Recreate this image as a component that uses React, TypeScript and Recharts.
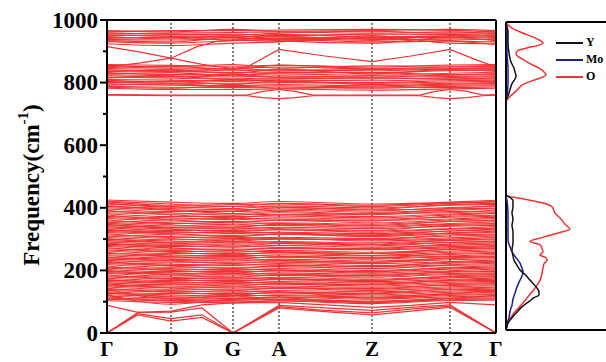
import React from "react";
import { LineChart, Line, XAxis, YAxis, ReferenceLine, Legend } from "recharts";

const FONT = '"Liberation Serif", "Times New Roman", serif';
const RED = "#ee3434";

// high-symmetry path (k distance) and labels
const kPoints = [0, 64, 126, 172, 265, 343, 389];
const kLabels = ["Γ", "D", "G", "A", "Z", "Y2", "Γ"];
const freqTicks = [0, 100, 200, 300, 400, 500, 600, 700, 800, 900, 1000];

// optical bands 100-420 cm-1, values at Γ D G A Z Y2 Γ
const lowBands = [
  [425, 418, 414, 420, 412, 418, 424],
  [419, 408, 410, 412, 404, 414, 419],
  [412, 404, 398, 406, 400, 408, 411],
  [404, 398, 394, 396, 390, 401, 405],
  [396, 388, 388, 392, 386, 392, 397],
  [389, 384, 376, 384, 378, 388, 390],
  [381, 372, 372, 374, 368, 377, 382],
  [372, 368, 362, 368, 364, 370, 373],
  [366, 358, 356, 360, 352, 361, 366],
  [358, 352, 346, 352, 348, 356, 359],
  [351, 342, 342, 344, 338, 347, 350],
  [343, 338, 332, 338, 334, 341, 344],
  [336, 328, 328, 330, 322, 332, 335],
  [328, 324, 318, 322, 318, 326, 329],
  [321, 314, 312, 316, 308, 318, 322],
  [313, 308, 302, 306, 302, 310, 313],
  [305, 298, 298, 302, 294, 300, 305],
  [299, 294, 288, 292, 288, 296, 298],
  [291, 284, 284, 286, 278, 289, 292],
  [283, 280, 274, 280, 274, 280, 284],
  [277, 268, 268, 270, 266, 272, 276],
  [269, 264, 258, 264, 258, 267, 270],
  [262, 254, 254, 256, 248, 258, 262],
  [254, 250, 244, 250, 246, 251, 255],
  [247, 240, 240, 242, 236, 244, 246],
  [240, 236, 230, 236, 230, 238, 241],
  [232, 226, 226, 226, 222, 228, 233],
  [225, 220, 216, 222, 216, 223, 226],
  [219, 210, 210, 212, 206, 216, 218],
  [210, 206, 200, 206, 200, 208, 211],
  [203, 196, 196, 198, 192, 199, 204],
  [196, 192, 186, 192, 188, 194, 197],
  [190, 182, 182, 184, 178, 187, 189],
  [182, 178, 172, 178, 172, 180, 183],
  [175, 168, 168, 170, 164, 171, 176],
  [168, 164, 158, 164, 160, 166, 168],
  [160, 154, 154, 156, 150, 158, 161],
  [153, 150, 144, 150, 146, 152, 154],
  [147, 140, 140, 142, 136, 144, 146],
  [139, 136, 130, 136, 132, 138, 140],
  [132, 126, 126, 128, 122, 130, 133],
  [126, 122, 116, 122, 118, 124, 125],
  [118, 112, 112, 114, 108, 116, 119],
  [111, 108, 104, 108, 102, 110, 112],
  [104, 98, 100, 102, 94, 104, 105],
  [140, 110, 120, 130, 112, 124, 138],
  [122, 92, 108, 112, 98, 110, 120],
];

// second family of optical bands, crossing the first
const lowBands2 = [
  [421, 412, 404, 414, 408, 416, 420],
  [415, 402, 404, 402, 396, 410, 414],
  [407, 394, 390, 400, 394, 398, 408],
  [400, 392, 382, 388, 380, 396, 399],
  [392, 380, 380, 378, 382, 384, 393],
  [384, 378, 368, 378, 372, 380, 385],
  [377, 364, 366, 364, 358, 373, 376],
  [369, 362, 352, 360, 360, 364, 370],
  [362, 350, 352, 350, 344, 356, 361],
  [354, 346, 338, 348, 342, 350, 355],
  [347, 336, 336, 334, 328, 344, 346],
  [339, 332, 324, 330, 326, 334, 340],
  [331, 320, 322, 320, 314, 326, 332],
  [324, 318, 308, 316, 312, 320, 325],
  [317, 306, 306, 302, 298, 314, 316],
  [309, 302, 294, 300, 298, 304, 310],
  [302, 290, 292, 290, 284, 296, 301],
  [295, 288, 278, 286, 282, 290, 294],
  [287, 276, 278, 274, 270, 284, 288],
  [280, 272, 264, 272, 268, 276, 279],
  [273, 260, 262, 260, 254, 268, 272],
  [265, 258, 250, 258, 254, 262, 266],
  [258, 246, 248, 246, 240, 254, 257],
  [250, 244, 236, 244, 240, 246, 251],
  [243, 232, 234, 232, 226, 240, 244],
  [236, 230, 222, 230, 226, 234, 237],
  [229, 216, 218, 218, 212, 226, 228],
  [222, 214, 206, 216, 212, 218, 223],
  [214, 202, 204, 202, 196, 210, 215],
  [207, 200, 192, 200, 196, 204, 208],
  [200, 188, 190, 188, 184, 196, 199],
  [193, 186, 178, 186, 182, 190, 192],
  [186, 174, 176, 174, 168, 182, 187],
  [179, 172, 164, 172, 168, 176, 180],
  [171, 160, 162, 160, 156, 168, 172],
  [164, 158, 150, 158, 154, 162, 165],
  [157, 146, 148, 146, 142, 154, 158],
  [150, 144, 136, 144, 140, 148, 151],
  [143, 132, 134, 132, 128, 140, 144],
  [136, 130, 122, 130, 126, 134, 137],
  [129, 118, 120, 120, 114, 126, 130],
  [122, 116, 110, 116, 112, 120, 123],
  [115, 104, 106, 106, 100, 112, 116],
  [108, 102, 96, 104, 98, 106, 109],
];

// high-frequency bands 760-970 cm-1, values at Γ D G A Z Y2 Γ
const highBands = [
  [962, 966, 966, 968, 970, 967, 962],
  [956, 958, 960, 962, 958, 962, 956],
  [950, 952, 955, 950, 955, 954, 950],
  [944, 944, 948, 946, 940, 948, 944],
  [938, 936, 940, 942, 935, 940, 937],
  [931, 926, 934, 938, 930, 932, 930],
  [924, 918, 926, 930, 950, 926, 924],
  [858, 855, 852, 855, 850, 856, 858],
  [852, 846, 846, 850, 844, 850, 852],
  [845, 842, 838, 842, 838, 844, 846],
  [838, 836, 832, 834, 832, 838, 840],
  [832, 826, 826, 828, 824, 830, 833],
  [825, 822, 818, 822, 818, 824, 826],
  [818, 814, 812, 816, 812, 816, 819],
  [810, 808, 804, 808, 806, 810, 812],
  [803, 798, 798, 800, 798, 802, 804],
  [796, 792, 790, 794, 790, 795, 797],
  [788, 785, 784, 786, 782, 788, 790],
  [782, 778, 778, 780, 776, 780, 782],
];

const highBands2 = [
  [966, 962, 970, 964, 966, 970, 966],
  [959, 954, 952, 958, 964, 958, 959],
  [953, 948, 944, 954, 946, 950, 953],
  [947, 940, 950, 940, 944, 944, 947],
  [941, 946, 936, 948, 938, 936, 941],
  [934, 930, 944, 934, 926, 944, 934],
  [855, 850, 858, 846, 854, 852, 855],
  [848, 852, 842, 856, 846, 846, 848],
  [842, 836, 846, 838, 842, 840, 842],
  [835, 840, 830, 842, 828, 842, 836],
  [828, 832, 822, 832, 832, 826, 829],
  [822, 818, 826, 818, 822, 820, 822],
  [815, 820, 810, 812, 816, 812, 815],
  [807, 802, 808, 804, 800, 806, 808],
  [800, 804, 794, 806, 794, 798, 800],
  [792, 796, 788, 790, 786, 792, 793],
  [785, 782, 790, 782, 786, 784, 786],
];

// dispersive branches, [k, freq]
const acousticBands = [
  [[0, 0], [31, 58], [64, 38], [95, 50], [126, 0], [172, 80], [218, 68], [265, 58], [304, 70], [343, 82], [389, 0]],
  [[0, 0], [31, 62], [64, 46], [95, 58], [126, 0], [172, 84], [218, 72], [265, 64], [304, 76], [343, 86], [389, 0]],
  [[0, 0], [31, 66], [64, 67], [95, 80], [126, 0], [172, 88], [218, 80], [265, 72], [304, 82], [343, 90], [389, 0]],
  [[0, 88], [31, 66], [64, 70], [95, 90], [126, 96], [172, 98], [218, 90], [265, 82], [304, 88], [343, 98], [389, 90]],
  [[0, 915], [32, 898], [64, 878], [90, 915], [110, 932], [126, 936], [172, 932], [265, 944], [343, 934], [389, 922]],
  [[0, 850], [32, 862], [64, 878], [95, 858], [126, 845], [140, 850], [172, 906], [218, 885], [265, 867], [304, 885], [343, 906], [370, 872], [389, 850]],
  [[0, 762], [64, 760], [140, 760], [156, 772], [172, 778], [188, 772], [206, 760], [265, 760], [313, 760], [328, 772], [343, 778], [360, 772], [376, 760], [389, 762]],
  [[0, 760], [64, 758], [140, 758], [156, 752], [172, 749], [188, 752], [206, 758], [265, 758], [313, 758], [328, 752], [343, 749], [360, 752], [376, 758], [389, 760]],
];

// partial DOS, [freq, dos]
const dosY = [
  [985, 1], [970, 2], [950, 2], [930, 2], [900, 3], [870, 5], [850, 8], [838, 9], [825, 10], [815, 9],
  [800, 6], [780, 4], [760, 2], [745, 0], [440, 0], [430, 4], [420, 7], [400, 7], [380, 6], [360, 7],
  [340, 6], [320, 7], [300, 7], [283, 7], [260, 6], [240, 7], [227, 8], [210, 11], [195, 14], [180, 19],
  [162, 24], [140, 30], [125, 33], [114, 33], [105, 28], [95, 24], [88, 21], [75, 16], [58, 11], [40, 6],
  [23, 2], [10, 1], [0, 0],
];
const dosMo = [
  [990, 1], [950, 1], [900, 1], [850, 2], [800, 2], [760, 1], [740, 0], [440, 0], [420, 1], [380, 2],
  [340, 2], [292, 2], [270, 4], [254, 6], [235, 10], [217, 14], [200, 16], [189, 17], [175, 16], [162, 14],
  [140, 11], [120, 9], [100, 7], [81, 6], [60, 4], [40, 3], [20, 1], [0, 0],
];
const dosO = [
  [995, 1], [980, 6], [965, 16], [950, 28], [940, 34], [932, 37], [925, 33], [915, 20], [905, 11], [895, 10],
  [880, 16], [865, 24], [850, 33], [838, 38], [828, 40], [820, 36], [808, 25], [795, 16], [782, 12], [770, 8],
  [755, 3], [740, 0], [438, 0], [425, 18], [410, 40], [400, 46], [380, 49], [360, 55], [340, 60], [328, 64],
  [315, 52], [300, 36], [287, 24], [277, 34], [265, 36], [254, 37], [243, 34], [235, 40], [227, 41], [215, 38],
  [201, 37], [185, 36], [162, 34], [140, 30], [120, 25], [100, 20], [80, 15], [55, 8], [35, 4], [15, 1], [0, 0],
];
const legendOrder = ["Y", "Mo", "O"];

const flatSeries = [...lowBands, ...lowBands2, ...highBands, ...highBands2].map((vals) =>
  vals.map((f, i) => ({ k: kPoints[i], f }))
);
const kinkSeries = acousticBands.map((pts) => pts.map(([k, f]) => ({ k, f })));
const toDos = (arr: number[][]) => arr.map(([f, v]) => ({ f, v }));

const YTick = (props: any) => {
  const { x, y, payload } = props;
  const major = payload.value % 200 === 0;
  return (
    <g>
      <line x1={x - (major ? 7 : 4)} x2={x} y1={y} y2={y} stroke="#000" strokeWidth={2} />
      {major && (
        <text x={x - 9} y={y} textAnchor="end" dominantBaseline="central" fill="#000"
          style={{ fontFamily: FONT, fontWeight: 700, fontSize: 23 }}>
          {payload.value}
        </text>
      )}
    </g>
  );
};

const FreqLabel = () => (
  <text x={0} y={0} transform="translate(31,185) rotate(-90)" textAnchor="middle" dominantBaseline="central"
    fill="#000" style={{ fontFamily: FONT, fontWeight: 700, fontSize: 23 }}>
    Frequency(cm<tspan dy={-8} fontSize={15}>-1</tspan><tspan dy={8}>)</tspan>
  </text>
);

const DosLegend = ({ payload }: any) => {
  const items = [...(payload || [])].sort(
    (a: any, b: any) => legendOrder.indexOf(a.value) - legendOrder.indexOf(b.value)
  );
  return (
    <div style={{ fontFamily: FONT, fontWeight: 700, fontSize: 12, color: "#000" }}>
      {items.map((p: any) => (
        <div key={p.value} style={{ display: "flex", alignItems: "center", height: 17, whiteSpace: "nowrap" }}>
          <svg width={27} height={4}>
            <line x1={0} x2={27} y1={2} y2={2} stroke={p.color} strokeWidth={2} />
          </svg>
          <span style={{ marginLeft: 3 }}>{p.value}</span>
        </div>
      ))}
    </div>
  );
};

export default function App() {
  return (
    <div style={{ position: "absolute", left: 0, top: 0, width: 606, height: 362, overflow: "hidden", background: "#fff" }}>
      <div style={{ position: "absolute", left: 0, top: 0 }}>
        <LineChart width={606} height={362} margin={{ top: 20, right: 110, bottom: 0, left: 47 }}>
          <XAxis type="number" dataKey="k" domain={[0, 389]} ticks={kPoints} interval={0}
            tickFormatter={(v: number) => kLabels[kPoints.indexOf(v)]} tickLine={false} tickSize={0} tickMargin={8}
            height={29} axisLine={{ stroke: "#000", strokeWidth: 2 }} allowDataOverflow
            tick={{ fill: "#000", fontSize: 21, fontWeight: 700, fontFamily: FONT }} />
          <YAxis type="number" domain={[0, 1000]} ticks={freqTicks} interval={0} width={60} tickSize={0}
            tickMargin={0} tickLine={false} tick={<YTick />} axisLine={{ stroke: "#000", strokeWidth: 2 }}
            label={<FreqLabel />} />
          {kPoints.slice(1, 6).map((k) => (
            <ReferenceLine key={k} x={k} stroke="#000" strokeDasharray="2 2" strokeWidth={1} />
          ))}
          {flatSeries.map((d, i) => (
            <Line key={"b" + i} data={d} dataKey="f" type="monotone" stroke={RED} strokeWidth={1.1}
              dot={false} isAnimationActive={false} />
          ))}
          {kinkSeries.map((d, i) => (
            <Line key={"a" + i} data={d} dataKey="f" type="linear" stroke={RED} strokeWidth={1.2}
              dot={false} isAnimationActive={false} />
          ))}
          <ReferenceLine y={1000} stroke="#000" strokeWidth={2} />
          <ReferenceLine x={389} stroke="#000" strokeWidth={2} />
        </LineChart>
      </div>
      <div style={{ position: "absolute", left: 0, top: 0 }}>
        <LineChart layout="vertical" width={606} height={362} margin={{ top: 22, right: 0, bottom: 32, left: 506 }}>
          <XAxis type="number" domain={[0, 100]} hide allowDataOverflow />
          <YAxis type="number" dataKey="f" domain={[0, 1000]} hide reversed />
          <ReferenceLine x={0} stroke="#000" strokeWidth={2} />
          <ReferenceLine y={0} stroke="#000" strokeWidth={2} />
          <ReferenceLine y={1000} stroke="#000" strokeWidth={2} />
          <Legend layout="vertical" align="center" verticalAlign="middle" content={<DosLegend />}
            wrapperStyle={{ left: 556, top: 34, width: "auto", height: "auto" }} />
          <Line data={toDos(dosO)} dataKey="v" name="O" stroke={RED} strokeWidth={1.5} dot={false}
            type="monotone" isAnimationActive={false} legendType="line" />
          <Line data={toDos(dosMo)} dataKey="v" name="Mo" stroke="#1f1f8a" strokeWidth={1.5} dot={false}
            type="monotone" isAnimationActive={false} legendType="line" />
          <Line data={toDos(dosY)} dataKey="v" name="Y" stroke="#111" strokeWidth={1.5} dot={false}
            type="monotone" isAnimationActive={false} legendType="line" />
        </LineChart>
      </div>
    </div>
  );
}
